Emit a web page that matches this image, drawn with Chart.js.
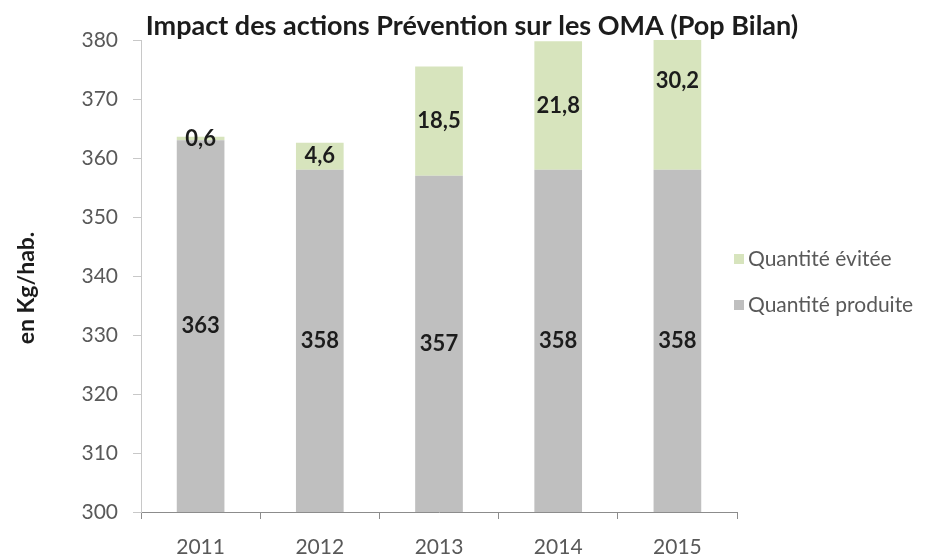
<!DOCTYPE html>
<html>
<head>
<meta charset="utf-8">
<script src="https://cdn.jsdelivr.net/npm/chart.js@4"></script>
<style>
  html, body { margin: 0; padding: 0; background: #fff; }
  #wrap { width: 925px; height: 557px; }
</style>
</head>
<body>
<div id="wrap"><canvas id="oma-chart" width="925" height="557"></canvas></div>
<script>
// Data
var years = ['2011', '2012', '2013', '2014', '2015'];
var quantite_produite = [363, 358, 357, 358, 358];
var quantite_evitee = [0.6, 4.6, 18.5, 21.8, 30.2];
var y_ticks = [300, 310, 320, 330, 340, 350, 360, 370, 380];

var font_family = 'Lato, "Open Sans", sans-serif';

// Value labels in the middle of each segment (the bottom one is cut at the axis minimum)
var valueLabels = {
    id: 'valueLabels',
    afterDatasetsDraw: function (chart) {
        var ctx = chart.ctx;
        var area = chart.chartArea;
        ctx.save();
        ctx.font = 'bold 22px ' + font_family;
        ctx.fillStyle = '#1c1c1c';
        ctx.textAlign = 'center';
        ctx.textBaseline = 'middle';
        chart.data.datasets.forEach(function (ds, i) {
            var meta = chart.getDatasetMeta(i);
            meta.data.forEach(function (bar, j) {
                var p = bar.getProps(['x', 'y', 'base'], true);
                var cy = (p.y + Math.min(p.base, area.bottom)) / 2;
                ctx.fillText(String(ds.data[j]).replace('.', ','), p.x, cy);
            });
        });
        ctx.restore();
    }
};

// Title, axis title and legend drawn where the original has them
var titleAndLegend = {
    id: 'titleAndLegend',
    afterDraw: function (chart) {
        var ctx = chart.ctx;
        ctx.save();
        ctx.font = 'bold 27px ' + font_family;
        ctx.fillStyle = '#1c1c1c';
        ctx.textAlign = 'center';
        ctx.textBaseline = 'alphabetic';
        ctx.fillText('Impact des actions Prévention sur les OMA (Pop Bilan)', 472, 35);

        // y axis title
        ctx.save();
        ctx.translate(27, 288);
        ctx.rotate(-Math.PI / 2);
        ctx.font = 'bold 23px ' + font_family;
        ctx.textBaseline = 'middle';
        ctx.fillText('en Kg/hab.', 0, 0);
        ctx.restore();

        // legend, reversed order like the original
        ctx.font = '21px ' + font_family;
        ctx.textAlign = 'left';
        ctx.textBaseline = 'middle';
        var rows = [1, 0];
        rows.forEach(function (i, k) {
            var ds = chart.data.datasets[i];
            var y = 259 + k * 46;
            ctx.fillStyle = ds.backgroundColor;
            ctx.fillRect(734, y - 5, 10, 10);
            ctx.fillStyle = '#595959';
            ctx.fillText(ds.label, 748, y);
        });
        ctx.restore();
    }
};

var ctx = document.getElementById('oma-chart').getContext('2d');
var chart = new Chart(ctx, {

    // Set type of chart
    type: 'bar',

    data: {
        labels: years,
        datasets: [
            {
                label: 'Quantité produite',
                data: quantite_produite,
                backgroundColor: '#bfbfbf',
                barPercentage: 0.4,
                categoryPercentage: 1
            },
            {
                label: 'Quantité évitée',
                data: quantite_evitee,
                backgroundColor: '#d7e4bd',
                barPercentage: 0.4,
                categoryPercentage: 1
            }
        ]
    },

    options: {
        responsive: false,
        animation: false,
        events: [],
        layout: { padding: { left: 0, right: 188, top: 40, bottom: 0 } },
        plugins: {
            legend: { display: false },
            title: { display: false },
            tooltip: { enabled: false }
        },
        scales: {
            x: {
                stacked: true,
                grid: { drawOnChartArea: false, tickLength: 7, color: '#8c8c8c' },
                border: { color: '#8c8c8c' },
                ticks: { color: '#595959', padding: 16, font: { family: font_family, size: 21 } },
                afterFit: function (scale) { scale.height = 45; }
            },
            y: {
                stacked: true,
                min: 300,
                max: 380,
                afterBuildTicks: function (scale) {
                    scale.ticks = y_ticks.map(function (v) { return { value: v }; });
                },
                grid: { drawOnChartArea: false, tickLength: 8, color: '#c8c8c8' },
                border: { color: '#c8c8c8' },
                ticks: { color: '#595959', padding: 15, font: { family: font_family, size: 21 } },
                afterFit: function (scale) { scale.width = 141; }
            }
        }
    },

    plugins: [valueLabels, titleAndLegend]
});
</script>
</body>
</html>
